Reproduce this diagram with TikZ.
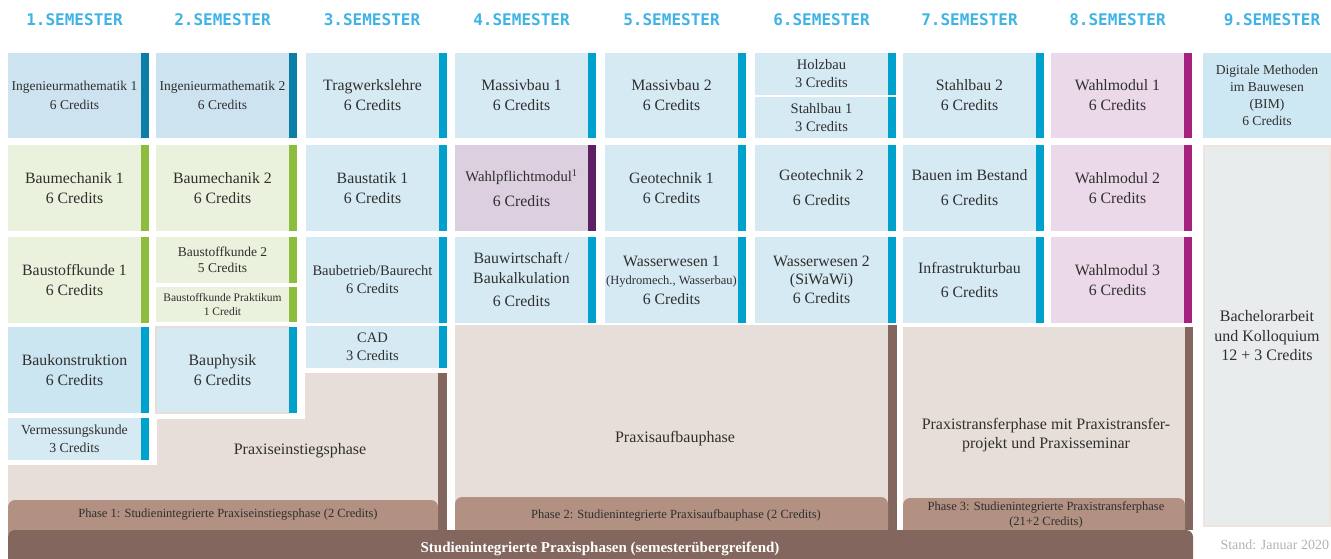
\documentclass[tikz,border=0pt]{standalone}
\usepackage{fontspec}
\setmainfont{Liberation Serif}
\newfontfamily\semfont{DejaVu Sans Mono}

\definecolor{headblue}{HTML}{3FB3E6}
\definecolor{modtext}{HTML}{2F2F2F}
\definecolor{mathfill}{HTML}{CDE3EF}
\definecolor{mathbar}{HTML}{0B7EA8}
\definecolor{bluefill}{HTML}{D6EAF4}
\definecolor{konfill}{HTML}{CBE5F1}
\definecolor{bluebar}{HTML}{00A2CD}
\definecolor{greenfill}{HTML}{EAF1DC}
\definecolor{greenbar}{HTML}{8CBD3C}
\definecolor{pflichtfill}{HTML}{DCCFE0}
\definecolor{pflichtbar}{HTML}{5D2064}
\definecolor{wahlfill}{HTML}{EBD8E8}
\definecolor{wahlbar}{HTML}{A5237F}
\definecolor{bimfill}{HTML}{CDE8F3}
\definecolor{bachfill}{HTML}{E9ECED}
\definecolor{bachrand}{HTML}{EEE4DE}
\definecolor{praxisfill}{HTML}{E8DED9}
\definecolor{phasefill}{HTML}{B29182}
\definecolor{phasebrown}{HTML}{83665D}
\definecolor{standgrey}{HTML}{B3B3B3}

\newcommand{\modfont}{\fontsize{15.8}{20}\selectfont}
\newcommand{\modmid}{\fontsize{14.5}{18}\selectfont}
\newcommand{\modsmall}{\fontsize{13.5}{19}\selectfont}
\newcommand{\modtiny}{\fontsize{11.5}{14}\selectfont}

\begin{document}
\begin{tikzpicture}[x=1pt, y=-1pt, inner sep=0pt, outer sep=0pt]
    \tikzstyle{semhead} = [text=headblue, font=\semfont\bfseries\fontsize{16}{16}\selectfont]
    \tikzstyle{modul} = [rectangle, minimum width=133pt, align=center, text=modtext, font=\modfont]
    \tikzstyle{mathmod} = [modul, fill=mathfill, font=\modsmall]
    \tikzstyle{greenmod} = [modul, fill=greenfill]
    \tikzstyle{bluemod} = [modul, fill=bluefill]
    \tikzstyle{pflichtmod} = [modul, fill=pflichtfill]
    \tikzstyle{wahlmod} = [modul, fill=wahlfill]
    \tikzstyle{praxis} = [align=center, text=modtext, font=\fontsize{16}{19}\selectfont]
    \tikzstyle{phaselabel} = [align=center, text=modtext, font=\fontsize{12.5}{15}\selectfont]

    \useasboundingbox (0,0) rectangle (1331,558);

    % Praxisphasen im Hintergrund
    \fill [praxisfill] (8,465) -- (157,465) -- (157,419) -- (305,419) -- (305,373) -- (438,373) -- (438,530) -- (8,530) -- cycle;
    \fill [praxisfill] (455,325) rectangle (888,530);
    \fill [praxisfill] (903,327) rectangle (1185,530);
    \fill [phasebrown] (438,373) rectangle (447,530);
    \fill [phasebrown] (888,325) rectangle (897,530);
    \fill [phasebrown] (1185,327) rectangle (1193,530);
    \fill [phasefill, rounded corners=7pt] (8,500) rectangle (438,540);
    \fill [phasefill, rounded corners=7pt] (455,497) rectangle (888,540);
    \fill [phasefill, rounded corners=7pt] (903,498) rectangle (1185,540);
    \fill [phasebrown, rounded corners=7pt] (8,530) rectangle (1193,575);

    % Semester headers
    \foreach \s/\x in {1/74.5,2/222.5,3/372,4/521.5,5/671.5,6/821.5,7/969.5,8/1117.5,9/1272}
        \node [semhead] (sem\s) at (\x,20) {\s.SEMESTER};

    % 1. Semester
    \node [mathmod, minimum height=85pt] (ima1) at (74.5,95.5) {Ingenieurmathematik 1\\6 Credits};
    \node [greenmod, minimum height=86pt] (bm1) at (74.5,188) {Baumechanik 1\\6 Credits};
    \node [greenmod, minimum height=86pt] (bsk1) at (74.5,280) {Baustoffkunde 1\\6 Credits};
    \node [bluemod, fill=konfill, minimum height=86pt] (bk) at (74.5,370) {Baukonstruktion\\6 Credits};
    \node [bluemod, minimum height=42pt, font=\fontsize{13.8}{18}\selectfont] (vk) at (74.5,439) {Vermessungskunde\\3 Credits};

    % 2. Semester
    \node [mathmod, minimum height=85pt] (ima2) at (222.5,95.5) {Ingenieurmathematik 2\\6 Credits};
    \node [greenmod, minimum height=86pt] (bm2) at (222.5,188) {Baumechanik 2\\6 Credits};
    \node [greenmod, minimum height=46pt, font=\fontsize{13.5}{16}\selectfont] (bsk2) at (222.5,260) {Baustoffkunde 2\\5 Credits};
    \node [greenmod, minimum height=35pt, font=\modtiny] (bskp) at (222.5,304.5) {Baustoffkunde Praktikum\\1 Credit};
    \node [bluemod, minimum height=86pt, draw=praxisfill, line width=1.5pt] (bph) at (222.5,370) {Bauphysik\\6 Credits};

    % 3. Semester
    \node [bluemod, minimum height=85pt] (twl) at (372.5,95.5) {Tragwerkslehre\\6 Credits};
    \node [bluemod, minimum height=86pt] (bs1) at (372.5,188) {Baustatik 1\\6 Credits};
    \node [bluemod, minimum height=86pt, font=\modmid] (bbr) at (372.5,280) {Baubetrieb/Baurecht\\6 Credits};
    \node [bluemod, minimum height=42pt, font=\modmid] (cad) at (372.5,347) {CAD\\3 Credits};

    % 4. Semester
    \node [bluemod, minimum height=85pt] (mb1) at (521.5,95.5) {Massivbau 1\\6 Credits};
    \node [pflichtmod, minimum height=86pt] (wpm) at (521.5,188) {{\fontsize{14.7}{20}\selectfont Wahlpflichtmodul\textsuperscript{1}}\\[5pt]6 Credits};
    \node [bluemod, minimum height=86pt] (bwk) at (521.5,280) {Bauwirtschaft\,/\\Baukalkulation\\[3pt]6 Credits};

    % 5. Semester
    \node [bluemod, minimum height=85pt] (mb2) at (671.5,95.5) {Massivbau 2\\6 Credits};
    \node [bluemod, minimum height=86pt] (gt1) at (671.5,188) {Geotechnik 1\\6 Credits};
    \node [bluemod, minimum height=86pt, font=\fontsize{15.8}{18}\selectfont] (ww1) at (671.5,280) {Wasserwesen 1\\{\fontsize{12.5}{15}\selectfont (Hydromech., Wasserbau)}\\[2pt]6 Credits};

    % 6. Semester
    \node [bluemod, minimum height=42pt, font=\modmid] (hb) at (821.5,74) {Holzbau\\3 Credits};
    \node [bluemod, minimum height=41pt, font=\modmid] (sb1) at (821.5,117.5) {Stahlbau 1\\3 Credits};
    \node [bluemod, minimum height=86pt] (gt2) at (821.5,188) {Geotechnik 2\\[5pt]6 Credits};
    \node [bluemod, minimum height=86pt, font=\fontsize{15.8}{17.5}\selectfont] (ww2) at (821.5,280) {Wasserwesen 2\\(SiWaWi)\\[2pt]6 Credits};

    % 7. Semester
    \node [bluemod, minimum height=85pt] (sb2) at (969.5,95.5) {Stahlbau 2\\6 Credits};
    \node [bluemod, minimum height=86pt] (bib) at (969.5,188) {Bauen im Bestand\\[5pt]6 Credits};
    \node [bluemod, minimum height=86pt] (ifb) at (969.5,280) {Infrastrukturbau\\[4pt]6 Credits};

    % 8. Semester
    \node [wahlmod, minimum height=85pt] (wm1) at (1117.5,95.5) {Wahlmodul 1\\6 Credits};
    \node [wahlmod, minimum height=86pt] (wm2) at (1117.5,188) {Wahlmodul 2\\6 Credits};
    \node [wahlmod, minimum height=86pt] (wm3) at (1117.5,280) {Wahlmodul 3\\6 Credits};

    % 9. Semester
    \node [modul, fill=bimfill, minimum width=128pt, minimum height=85pt, font=\fontsize{13.6}{17}\selectfont] (bim) at (1267,95.5) {Digitale Methoden\\im Bauwesen\\(BIM)\\6 Credits};
    \node [modul, fill=bachfill, draw=bachrand, line width=2pt, minimum width=126pt, minimum height=380pt, font=\fontsize{16}{19.5}\selectfont] (ba) at (1267,336) {Bachelorarbeit\\und Kolloquium\\12 + 3 Credits};

    % Farbbalken rechts
    \foreach \n/\c in {ima1/mathbar, ima2/mathbar, bm1/greenbar, bm2/greenbar, bsk1/greenbar, bsk2/greenbar, bskp/greenbar, bk/bluebar, vk/bluebar, bph/bluebar, twl/bluebar, bs1/bluebar, bbr/bluebar, cad/bluebar, mb1/bluebar, wpm/pflichtbar, bwk/bluebar, mb2/bluebar, gt1/bluebar, ww1/bluebar, hb/bluebar, sb1/bluebar, gt2/bluebar, ww2/bluebar, sb2/bluebar, bib/bluebar, ifb/bluebar, wm1/wahlbar, wm2/wahlbar, wm3/wahlbar}
        \fill [\c] (\n.north east) rectangle ([xshift=8pt]\n.south east);

    % Praxisphasen
    \node [praxis] (pep) at (300,451) {Praxiseinstiegsphase};
    \node [praxis] (pap) at (675,439) {Praxisaufbauphase};
    \node [praxis] (ptp) at (1046,435) {Praxistransferphase mit Praxistransfer-\\projekt und Praxisseminar};
    \node [phaselabel] (ph1) at (228,515) {Phase 1: Studienintegrierte Praxiseinstiegsphase (2 Credits)};
    \node [phaselabel] (ph2) at (676,515) {Phase 2: Studienintegrierte Praxisaufbauphase (2 Credits)};
    \node [phaselabel] (ph3) at (1046,515) {Phase 3: Studienintegrierte Praxistransferphase\\(21+2 Credits)};
    \node [text=white, font=\bfseries\fontsize{15}{15}\selectfont] (sip) at (600,549) {Studienintegrierte Praxisphasen (semesterübergreifend)};

    \node [anchor=east, text=standgrey, font=\fontsize{14}{14}\selectfont] (stand) at (1329,545) {Stand: Januar 2020};
\end{tikzpicture}
\end{document}
